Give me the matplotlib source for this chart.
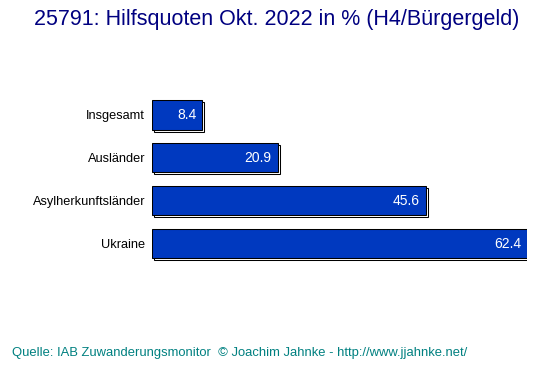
import matplotlib.pyplot as plt
import matplotlib.transforms as mtransforms

kategorien = ["Insgesamt", "Ausländer", "Asylherkunftsländer", "Ukraine"]
werte = [8.4, 20.9, 45.6, 62.4]

plt.rcParams['font.family'] = ['Liberation Sans', 'DejaVu Sans']

fig = plt.figure(figsize=(5.53, 3.76), dpi=100)
ax = fig.add_axes([152 / 553, 1 - 265 / 376, 375 / 553, 171.5 / 376])

y = list(range(len(kategorien)))

# Schatten: um 2px nach rechts unten versetzt
versatz = mtransforms.ScaledTranslation(2 / 100, -2 / 100, fig.dpi_scale_trans)
schatten = ax.barh(y, werte, height=0.68, color="white", edgecolor="black", linewidth=0.75)
for p in schatten:
    p.set_transform(ax.transData + versatz)

ax.barh(y, werte, height=0.68, color="#0039BF", edgecolor="black", linewidth=0.75)

for yi, w in zip(y, werte):
    ax.text(w - 1.0, yi, f"{w:.1f}", color="white", ha="right", va="center", fontsize=10)

ax.set_xlim(0, 62.4)
ax.set_ylim(3.5, -0.5)
ax.set_yticks(y)
ax.set_yticklabels(kategorien, fontsize=9.2)
ax.tick_params(axis="y", length=0, pad=5)
ax.set_xticks([])
for s in ax.spines.values():
    s.set_visible(False)

fig.text(0.5, 1 - 20 / 376, "25791: Hilfsquoten Okt. 2022 in % (H4/Bürgergeld)",
         ha="center", va="center", fontsize=15.5, color="#000080")
fig.text(12 / 553, 1 - 353 / 376, "Quelle: IAB Zuwanderungsmonitor  © Joachim Jahnke - http://www.jjahnke.net/",
         ha="left", va="center", fontsize=9.35, color="#008080")

plt.savefig("out.png", dpi=100)
